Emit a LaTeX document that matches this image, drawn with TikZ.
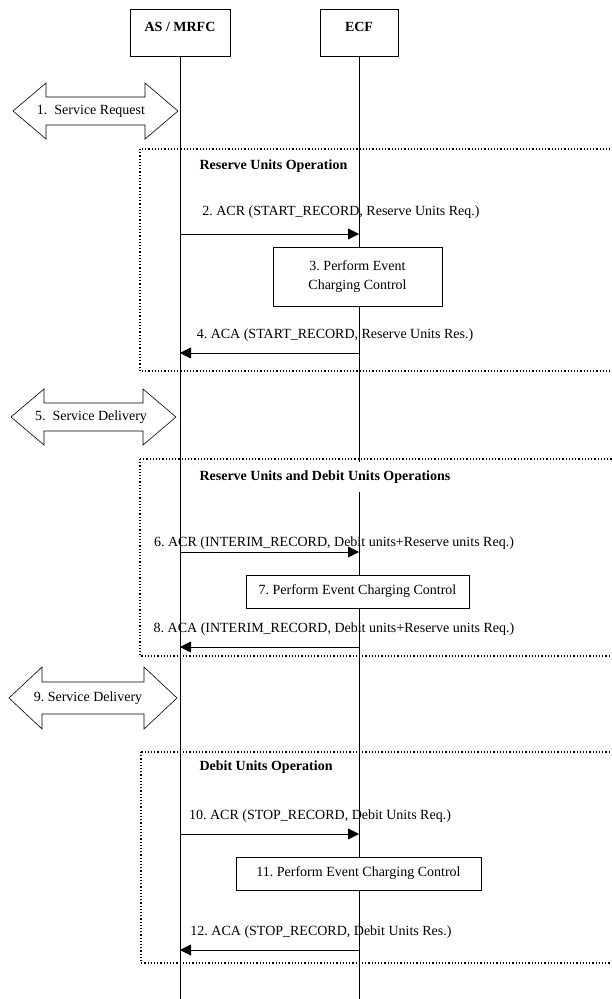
\documentclass[tikz,border=0pt]{standalone}
\usepackage{fontspec}
\setmainfont{Liberation Serif}
\usetikzlibrary{arrows.meta}
\frenchspacing
\begin{document}
\begin{tikzpicture}[x=1pt,y=-1pt,
      font=\fontsize{14}{19}\selectfont,
      entity/.style={draw,line width=.8pt,inner sep=0pt,minimum height=47pt},
      life/.style={line width=.8pt},
      msg/.style={line width=.8pt,-{Triangle[length=11pt,width=11pt]}},
      op/.style={draw,line width=.8pt,fill=white,inner sep=0pt,align=center},
      frame/.style={line width=1.2pt,dotted},
      title/.style={anchor=west,font=\fontsize{14}{19}\selectfont\bfseries},
      bidir/.style={draw,line width=.6pt,fill=white},
    ]
    \useasboundingbox (0,0) rectangle (612,999);
    \clip (0,0) rectangle (612,999);
    % lifelines
    \node[entity,minimum width=100pt] (as) at (180,32.5) {};
    \node[entity,minimum width=78pt] (ecf) at (359,32.5) {};
    \node[font=\fontsize{14}{19}\selectfont\bfseries] (asname) at (180,27) {AS / MRFC};
    \node[font=\fontsize{14}{19}\selectfont\bfseries] (ecfname) at (359,27) {ECF};
    \coordinate (asend) at (180,999);
    \coordinate (ecfend) at (359,999);
    \draw[life] (as) -- (asend);
    \draw[life] (ecf) -- (ecfend);
    % service arrows
    \foreach \l/\r/\y/\h/\s in {13/178/111/28/14,11/176/417/28/14,9/177/698/31/16}
      \draw[bidir] (\l,\y) -- (\l+33,\y-\h) -- (\l+33,\y-\s) -- (\r-33,\y-\s)
        -- (\r-33,\y-\h) -- (\r,\y) -- (\r-33,\y+\h) -- (\r-33,\y+\s)
        -- (\l+33,\y+\s) -- (\l+33,\y+\h) -- cycle;
    \node (sr1) at (91,111) {1.~ Service Request};
    \node (sd5) at (91,417) {5.~ Service Delivery};
    \node (sd9) at (88,698) {9. Service Delivery};
    % operation frames
    \draw[frame] (140,149) rectangle (630,371);
    \draw[frame] (140,459) rectangle (630,656);
    \draw[frame] (141,752) rectangle (630,963);
    \node[title] (ru) at (196,166) {Reserve Units Operation};
    \node[title,fill=white,minimum height=30pt,inner ysep=0pt] (rudu) at (196,477) {Reserve Units and Debit Units Operations};
    \node[title] (du) at (196,767) {Debit Units Operation};
    % reserve units
    \node (m2) at (341,212) {2. ACR (START\_RECORD, Reserve Units Req.)};
    \draw[msg] (as |- 0,234) -- (ecf |- 0,234);
    \node[op,minimum width=169pt,minimum height=59pt] (p3) at (357.5,276.5) {3. Perform Event\\Charging Control};
    \node (m4) at (335,335) {4. ACA (START\_RECORD, Reserve Units Res.)};
    \draw[msg] (ecf |- 0,353) -- (as |- 0,353);
    % reserve and debit units
    \node (m6) at (334,543) {6. ACR (INTERIM\_RECORD, Debit units+Reserve units Req.)};
    \draw[msg] (as |- 0,552) -- (ecf |- 0,552);
    \node[op,minimum width=223pt,minimum height=33pt] (p7) at (357.5,591.5) {7. Perform Event Charging Control};
    \node (m8) at (334,629) {8. ACA (INTERIM\_RECORD, Debit units+Reserve units Req.)};
    \draw[msg] (ecf |- 0,647) -- (as |- 0,647);
    % debit units
    \node (m10) at (320,816) {10. ACR (STOP\_RECORD, Debit Units Req.)};
    \draw[msg] (as |- 0,834) -- (ecf |- 0,834);
    \node[op,minimum width=245pt,minimum height=33pt] (p11) at (358.5,873.5) {11. Perform Event Charging Control};
    \node (m12) at (321,932) {12. ACA (STOP\_RECORD, Debit Units Res.)};
    \draw[msg] (ecf |- 0,950) -- (as |- 0,950);
  \end{tikzpicture}
\end{document}
